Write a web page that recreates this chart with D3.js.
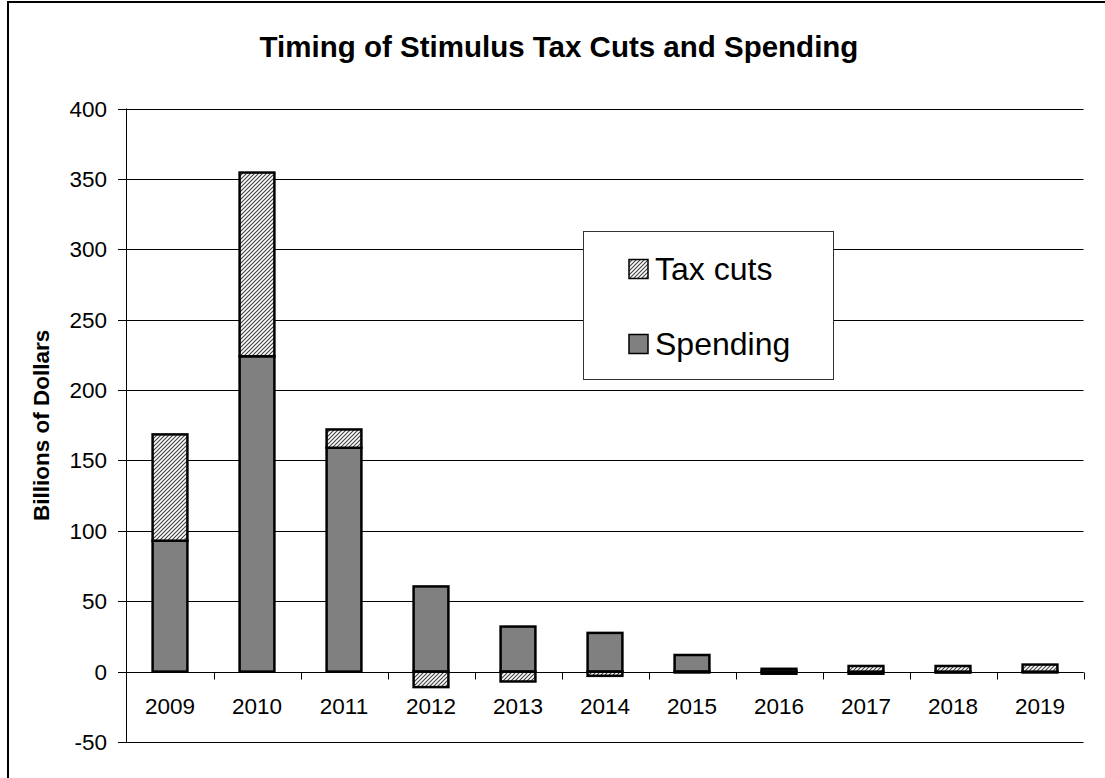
<!DOCTYPE html>
<html>
<head>
<meta charset="utf-8">
<script src="https://cdn.jsdelivr.net/npm/d3@7"></script>
<style>
  body { margin: 0; background: #fff; }
  svg text { font-family: "Liberation Sans", Arial, sans-serif; }
</style>
</head>
<body>
<svg id="chart" width="1105" height="778"></svg>
<script>
// values (billions of dollars)
const years = ["2009", "2010", "2011", "2012", "2013", "2014", "2015", "2016", "2017", "2018", "2019"];
const spending = [93, 224, 159, 60.5, 32, 27.5, 11.8, 2, -1.5, -0.7, -0.6];
const taxCuts = [75.5, 130.5, 13, -11, -7, -3, -0.6, -1.5, 4, 4, 5];
const yTicks = [-50, 0, 50, 100, 150, 200, 250, 300, 350, 400];

const svg = d3.select("#chart");

const x = d3.scaleBand().domain(years).range([126.5, 1083.5]).padding(0);
const y = d3.scaleLinear().domain([-50, 400]).range([742, 108.5]);
const barW = x.bandwidth() / 2.5;

// hatch pattern for tax cuts
const defs = svg.append("defs");
defs.append("pattern")
    .attr("id", "hatch")
    .attr("patternUnits", "userSpaceOnUse")
    .attr("width", 4).attr("height", 4)
  .call(p => {
      p.append("rect").attr("width", 4).attr("height", 4).attr("fill", "#fff");
      p.append("path")
        .attr("d", "M-1,1 l2,-2 M0,4 l4,-4 M3,5 l2,-2")
        .attr("stroke", "#444").attr("stroke-width", 1.2);
  });

// outer frame (runs off the right and bottom edge)
svg.append("rect")
    .attr("x", 8).attr("y", 2)
    .attr("width", 1120).attr("height", 800)
    .attr("fill", "none").attr("stroke", "#000").attr("stroke-width", 2);

// title
svg.append("text")
    .attr("x", 559).attr("y", 57)
    .attr("text-anchor", "middle")
    .attr("font-size", 29.5).attr("font-weight", "bold")
    .text("Timing of Stimulus Tax Cuts and Spending");

// gridlines
svg.append("g").selectAll("line")
  .data(yTicks)
  .join("line")
    .attr("x1", 118).attr("x2", 1083.5)
    .attr("y1", d => Math.round(y(d)) + 0.5).attr("y2", d => Math.round(y(d)) + 0.5)
    .attr("stroke", "#000").attr("stroke-width", 1);

// y tick labels
svg.append("g").selectAll("text")
  .data(yTicks)
  .join("text")
    .attr("x", 107).attr("y", d => y(d) + 8)
    .attr("text-anchor", "end")
    .attr("font-size", 22.5)
    .text(d => d);

// y axis line
svg.append("line")
    .attr("x1", 126.5).attr("x2", 126.5)
    .attr("y1", y(400)).attr("y2", y(-50))
    .attr("stroke", "#000");

// y axis title
svg.append("text")
    .attr("transform", `translate(49,${(y(400) + y(-50)) / 2}) rotate(-90)`)
    .attr("text-anchor", "middle")
    .attr("font-size", 22.5).attr("font-weight", "bold")
    .text("Billions of Dollars");

// stacked bars
const rows = years.map((yr, i) => ({ year: yr, spending: spending[i], taxCuts: taxCuts[i] }));
const series = d3.stack()
    .keys(["spending", "taxCuts"])
    .offset(d3.stackOffsetDiverging)(rows);
const fills = { spending: "#808080", taxCuts: "url(#hatch)" };

svg.append("g").selectAll("g")
  .data(series)
  .join("g")
    .attr("fill", s => fills[s.key])
  .selectAll("rect")
  .data(s => s)
  .join("rect")
    .attr("x", d => x(d.data.year) + (x.bandwidth() - barW) / 2)
    .attr("width", barW)
    .attr("y", d => y(Math.max(d[0], d[1])))
    .attr("height", d => Math.abs(y(d[0]) - y(d[1])))
    .attr("stroke", "#000").attr("stroke-width", 2.5);

// x axis at zero with tick marks between categories
const zeroY = Math.round(y(0)) + 0.5;
svg.append("line")
    .attr("x1", 126.5).attr("x2", 1083.5)
    .attr("y1", zeroY).attr("y2", zeroY)
    .attr("stroke", "#000");
svg.append("g").selectAll("line")
  .data(years)
  .join("line")
    .attr("x1", d => Math.round(x(d) + x.bandwidth()) + 0.5)
    .attr("x2", d => Math.round(x(d) + x.bandwidth()) + 0.5)
    .attr("y1", zeroY).attr("y2", zeroY + 7)
    .attr("stroke", "#000");

svg.append("g").selectAll("text")
  .data(years)
  .join("text")
    .attr("x", d => x(d) + x.bandwidth() / 2)
    .attr("y", 714)
    .attr("text-anchor", "middle")
    .attr("font-size", 22.5)
    .text(d => d);

// legend
const legend = svg.append("g");
legend.append("rect")
    .attr("x", 583.5).attr("y", 231.5)
    .attr("width", 250).attr("height", 148)
    .attr("fill", "#fff").attr("stroke", "#333").attr("stroke-width", 1);

const legendItems = [
  { label: "Tax cuts", fill: fills.taxCuts, y: 269 },
  { label: "Spending", fill: fills.spending, y: 344 }
];
legend.selectAll("g")
  .data(legendItems)
  .join("g")
  .each(function(d) {
      const g = d3.select(this);
      g.append("rect")
        .attr("x", 629).attr("y", d.y - 9.5)
        .attr("width", 19).attr("height", 19)
        .attr("fill", d.fill)
        .attr("stroke", "#000").attr("stroke-width", 1.5);
      g.append("text")
        .attr("x", 655).attr("y", d.y + 11)
        .attr("font-size", 32)
        .text(d.label);
  });
</script>
</body>
</html>
